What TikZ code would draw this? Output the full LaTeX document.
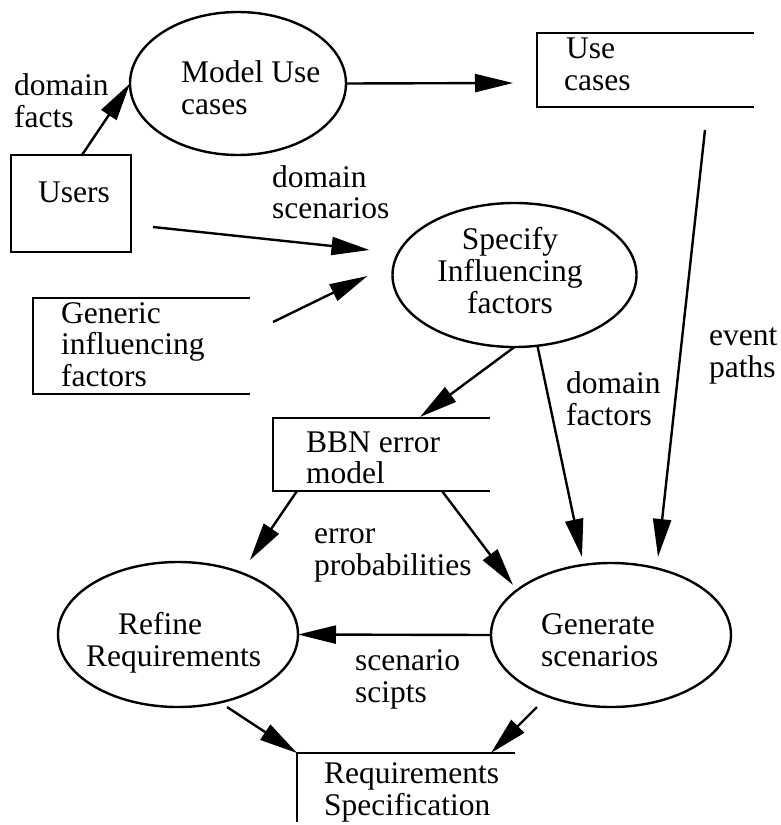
\documentclass[tikz,border=0pt]{standalone}
\usepackage{fontspec}
\setmainfont{Liberation Serif}
\usetikzlibrary{shapes.geometric,arrows.meta,calc}
\begin{document}
\begin{tikzpicture}[x=1pt,y=-1pt,
  line width=2.4pt,
  proc/.style={draw,ellipse,inner sep=0pt,outer sep=0pt},
  store/.style={rectangle,inner sep=0pt,outer sep=0pt},
  ent/.style={draw,rectangle,inner sep=0pt,outer sep=0pt},
  txt/.style={anchor=base west,inner sep=0pt,font=\fontsize{31.5}{33}\selectfont},
  ctxt/.style={anchor=base,inner sep=0pt,font=\fontsize{31.5}{33}\selectfont},
  arr/.style={-{Triangle[length=38pt,width=18pt]}}]
\useasboundingbox (0,0) rectangle (780,825);

% shapes
\node[proc,minimum width=216pt,minimum height=143pt] (mu) at (238,83.5) {};
\node[store,minimum width=217pt,minimum height=74pt] (uc) at (645.5,70) {};
\draw (uc.north east) -- (uc.north west) -- (uc.south west) -- (uc.south east);
\node[ent,minimum width=120pt,minimum height=97pt] (users) at (71,203.5) {};
\node[proc,minimum width=244pt,minimum height=144pt] (spec) at (514.5,275) {};
\node[store,minimum width=217pt,minimum height=96pt] (gif) at (141.5,346) {};
\draw (gif.north east) -- (gif.north west) -- (gif.south west) -- (gif.south east);
\node[store,minimum width=217pt,minimum height=73pt] (bbn) at (381.5,454.5) {};
\draw (bbn.north east) -- (bbn.north west) -- (bbn.south west) -- (bbn.south east);
\node[proc,minimum width=240pt,minimum height=145pt] (ref) at (178,634.5) {};
\node[proc,minimum width=240pt,minimum height=144pt] (gen) at (611,635) {};
\node[store,minimum width=218pt,minimum height=69pt] (req) at (406,787.5) {};
\draw (req.north east) -- (req.north west) -- (req.south west);

% texts in shapes
\node[txt] (mu1) at (180,82) {Model Use};
\node[txt] (mu2) at (180,114) {cases};
\node[txt] (uc1) at (565,58) {Use};
\node[txt] (uc2) at (563,90) {cases};
\node[txt] (us1) at (37,202) {Users};
\node[ctxt] (sp1) at (510,249) {Specify};
\node[ctxt] (sp2) at (510,281) {Influencing};
\node[ctxt] (sp3) at (510,313) {factors};
\node[txt] (gi1) at (60,323) {Generic};
\node[txt] (gi2) at (60,354) {influencing};
\node[txt] (gi3) at (60,386) {factors};
\node[txt] (bb1) at (305,452) {BBN error};
\node[txt] (bb2) at (305,483) {model};
\node[txt] (rf1) at (117,634) {Refine};
\node[txt] (rf2) at (85,666) {Requirements};
\node[txt] (gn1) at (540,634) {Generate};
\node[txt] (gn2) at (540,666) {scenarios};
\node[txt] (rq1) at (323,783) {Requirements};
\node[txt] (rq2) at (323,815) {Specification};

% connector labels
\node[txt] (la1) at (13,95) {domain};
\node[txt] (la2) at (13,127) {facts};
\node[txt] (lb1) at (271,187) {domain};
\node[txt] (lb2) at (271,218) {scenarios};
\node[txt] (lc1) at (565,393) {domain};
\node[txt] (lc2) at (565,425) {factors};
\node[txt] (ld1) at (708,345) {event};
\node[txt] (ld2) at (708,377) {paths};
\node[txt] (le1) at (313,543) {error};
\node[txt] (le2) at (313,575) {probabilities};
\node[txt] (lf1) at (354,670) {scenario};
\node[txt] (lf2) at (354,702) {scipts};

% connectors
\draw[arr] ($(users.north)+(11,0)$) -- (mu.west);
\draw[arr] (mu.east) -- ($(uc.west)+(-24,13)$);
\draw[arr] ($(uc.south)+(59.5,23)$) -- ($(gen.north)+(47,-6)$);
\draw[arr] ($(users.south east)+(22,-25)$) -- ($(spec.west)+(-23,-25)$);
\draw[arr] ($(gif.north east)+(23,24)$) -- ($(spec.west)+(-25,1)$);
\draw[arr] (spec.south) -- ($(bbn.north)+(38.5,-1)$);
\draw[arr] ($(spec.south)+(23,-1)$) -- ($(gen.north)+(-29,-6)$);
\draw[arr] ($(bbn.south west)+(24,0)$) -- ($(ref.north)+(72,-2)$);
\draw[arr] ($(bbn.south west)+(169,0)$) -- ($(gen.center)+(-98,-50)$);
\draw[arr] (gen.west) -- (ref.east);
\draw[arr] ($(ref.south)+(49,0)$) -- (req.north west);
\draw[arr] ($(gen.south)+(-74,0)$) -- ($(req.north east)+(-24,0)$);
\end{tikzpicture}
\end{document}
